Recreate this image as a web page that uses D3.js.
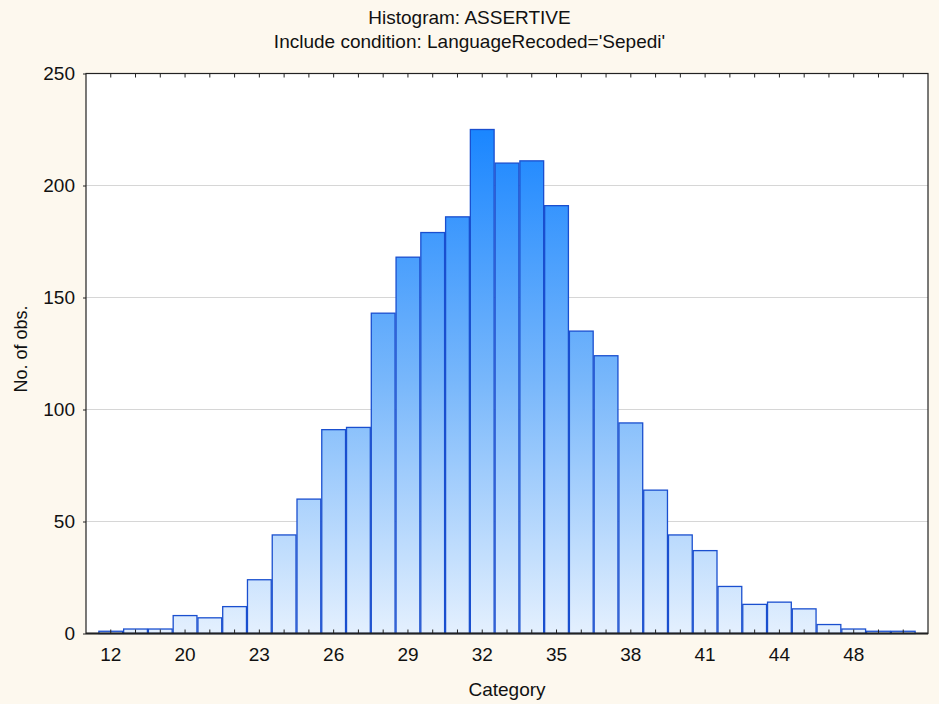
<!DOCTYPE html>
<html><head><meta charset="utf-8">
<script src="https://cdn.jsdelivr.net/npm/d3@7"></script>
<style>body{margin:0;background:#fdf8ee;} text{font-family:"Liberation Sans",Arial,sans-serif;fill:#111;}</style>
</head><body>
<svg id="c" width="939" height="704"></svg>
<script>
const categories = ["12","15","17","20","21","22","23","24","25","26","27","28","29","30","31","32","33","34","35","36","37","38","39","40","41","42","43","44","45","46","48","49","50"];
const counts = [1,2,2,8,7,12,24,44,60,91,92,143,168,179,186,225,210,211,191,135,124,94,64,44,37,21,13,14,11,4,2,1,1];
const tickLabels = ["12","20","23","26","29","32","35","38","41","44","48"];
const yTicks = [0,50,100,150,200,250];
const titleLines = ["Histogram: ASSERTIVE","Include condition: LanguageRecoded='Sepedi'"];

const FONT = "Liberation Sans, Arial, sans-serif";
const svg = d3.select("#c");
const L=86, R=928, T=73.5, B=633.5;
svg.append("rect").attr("width",939).attr("height",704).attr("fill","#fdf8ee");
svg.append("rect").attr("x",L).attr("y",T).attr("width",R-L).attr("height",B-T).attr("fill","#fff");

const x = d3.scaleBand().domain(categories).range([L,R]).paddingInner(0).paddingOuter(0.5);
const y = d3.scaleLinear().domain([0,250]).range([B,T]);

const defs = svg.append("defs");
const g = defs.append("linearGradient").attr("id","grad").attr("gradientUnits","userSpaceOnUse")
  .attr("x1",0).attr("x2",0).attr("y1",y(225)).attr("y2",B);
g.append("stop").attr("offset","0").attr("stop-color","#1a86ff");
g.append("stop").attr("offset","0.5").attr("stop-color","#78b7fb");
g.append("stop").attr("offset","1").attr("stop-color","#e4f0fe");

// grid
svg.append("g").selectAll("line").data(yTicks.filter(d=>d>0&&d<250)).join("line")
  .attr("x1",L).attr("x2",R).attr("y1",d=>y(d)).attr("y2",d=>y(d))
  .attr("stroke","#d6d6d6").attr("stroke-width",1);

// bars
svg.append("g").selectAll("rect").data(counts).join("rect")
  .attr("x",(d,i)=>x(categories[i])+0.5).attr("width",x.bandwidth()-1)
  .attr("y",d=>y(d)).attr("height",d=>B-y(d))
  .attr("fill","url(#grad)").attr("stroke","#1a4fcf").attr("stroke-width",1.3);

// frame
svg.append("rect").attr("x",L).attr("y",T).attr("width",R-L).attr("height",B-T)
  .attr("fill","none").attr("stroke","#222").attr("stroke-width",1.2);
svg.append("line").attr("x1",L).attr("x2",R).attr("y1",B).attr("y2",B).attr("stroke","#222").attr("stroke-width",2);

// bottom axis (inner ticks)
const xb = d3.axisBottom(x).tickSizeInner(-4).tickSizeOuter(0)
  .tickFormat((d,i)=> (i%3===0 && tickLabels[i/3]!==undefined) ? tickLabels[i/3] : "").tickPadding(14);
const gx = svg.append("g").attr("transform",`translate(0,${B})`).call(xb);
gx.select(".domain").remove();
gx.selectAll("text").attr("font-size",19).style("font-family",FONT).attr("fill","#111");
gx.selectAll("line").attr("stroke","#222");
// top axis ticks
const xt = d3.axisTop(x).tickSizeInner(-4).tickSizeOuter(0).tickFormat("");
const gt = svg.append("g").attr("transform",`translate(0,${T})`).call(xt);
gt.select(".domain").remove(); gt.selectAll("line").attr("stroke","#222");

// left axis
const ya = d3.axisLeft(y).tickValues(yTicks).tickSizeInner(3).tickSizeOuter(0).tickPadding(8);
const gy = svg.append("g").attr("transform",`translate(${L},0)`).call(ya);
gy.select(".domain").remove();
gy.selectAll("text").attr("font-size",19).style("font-family",FONT).attr("fill","#111");
gy.selectAll("line").attr("stroke","#222");

// titles
svg.append("text").attr("x",469.5).attr("y",24).attr("text-anchor","middle").attr("font-size",19).text(titleLines[0]);
svg.append("text").attr("x",469.5).attr("y",48).attr("text-anchor","middle").attr("font-size",19).text(titleLines[1]);
svg.append("text").attr("x",507).attr("y",696).attr("text-anchor","middle").attr("font-size",19).text("Category");
svg.append("text").attr("transform","translate(27,349) rotate(-90)").attr("text-anchor","middle").attr("font-size",18).text("No. of obs.");
</script>
</body></html>
